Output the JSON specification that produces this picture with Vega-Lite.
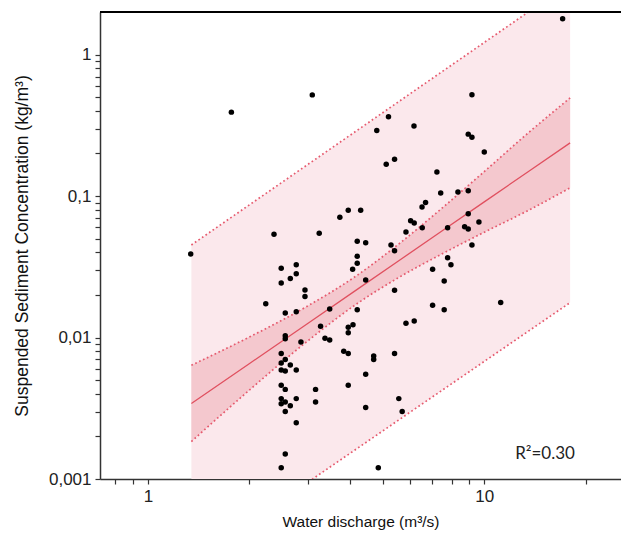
{
  "$schema": "https://vega.github.io/schema/vega-lite/v6.json",
  "width": 521,
  "height": 467,
  "autosize": {"type": "none"},
  "padding": {"left": 100, "top": 12, "right": 0, "bottom": 58},
  "background": "white",
  "config": {
    "view": {"stroke": null},
    "font": "Liberation Sans",
    "axis": {
      "grid": false,
      "domainColor": "#333333",
      "domainWidth": 1.5,
      "tickColor": "#333333",
      "tickWidth": 1.2,
      "tickSize": 5,
      "labelFont": "Liberation Sans",
      "labelFontSize": 17,
      "labelColor": "#222222",
      "labelPadding": 4,
      "titleFont": "Liberation Sans",
      "titleFontWeight": "normal",
      "titleColor": "#111111"
    }
  },
  "datasets": {
    "pts": [
      {"q": 1.34, "c": 0.039}, {"q": 1.77, "c": 0.392}, {"q": 2.37, "c": 0.0537}, {"q": 2.49, "c": 0.0309},
      {"q": 2.76, "c": 0.0327}, {"q": 3.08, "c": 0.519}, {"q": 3.23, "c": 0.0545}, {"q": 17.1, "c": 1.79},
      {"q": 9.19, "c": 0.52}, {"q": 5.19, "c": 0.363}, {"q": 4.79, "c": 0.291}, {"q": 6.18, "c": 0.313},
      {"q": 8.96, "c": 0.274}, {"q": 9.19, "c": 0.26}, {"q": 10.0, "c": 0.205}, {"q": 5.11, "c": 0.168},
      {"q": 5.41, "c": 0.182}, {"q": 7.23, "c": 0.148}, {"q": 7.42, "c": 0.105}, {"q": 8.35, "c": 0.107},
      {"q": 8.96, "c": 0.109}, {"q": 3.72, "c": 0.0707}, {"q": 3.94, "c": 0.0793}, {"q": 4.29, "c": 0.0793},
      {"q": 6.53, "c": 0.0836}, {"q": 6.69, "c": 0.0902}, {"q": 8.96, "c": 0.075}, {"q": 6.04, "c": 0.067},
      {"q": 6.19, "c": 0.0645}, {"q": 5.85, "c": 0.0557}, {"q": 6.54, "c": 0.0598}, {"q": 7.78, "c": 0.0598},
      {"q": 8.74, "c": 0.0607}, {"q": 8.96, "c": 0.0585}, {"q": 9.64, "c": 0.0655}, {"q": 9.19, "c": 0.0451},
      {"q": 4.19, "c": 0.0479}, {"q": 4.44, "c": 0.0468}, {"q": 5.28, "c": 0.0451}, {"q": 5.41, "c": 0.0411},
      {"q": 4.19, "c": 0.0375}, {"q": 4.19, "c": 0.0335}, {"q": 4.06, "c": 0.0304}, {"q": 7.02, "c": 0.0304},
      {"q": 7.78, "c": 0.0367}, {"q": 7.96, "c": 0.0327}, {"q": 4.44, "c": 0.0255}, {"q": 7.6, "c": 0.0251},
      {"q": 5.41, "c": 0.0216}, {"q": 3.47, "c": 0.0159}, {"q": 4.19, "c": 0.0157}, {"q": 7.02, "c": 0.0169},
      {"q": 7.6, "c": 0.0157}, {"q": 3.94, "c": 0.0118}, {"q": 4.07, "c": 0.0123}, {"q": 3.94, "c": 0.0108},
      {"q": 5.85, "c": 0.0126}, {"q": 6.19, "c": 0.0131}, {"q": 3.47, "c": 0.0096}, {"q": 3.82, "c": 0.008},
      {"q": 3.94, "c": 0.0077}, {"q": 4.69, "c": 0.0074}, {"q": 4.69, "c": 0.007}, {"q": 5.41, "c": 0.0077},
      {"q": 4.44, "c": 0.0055}, {"q": 3.94, "c": 0.0046}, {"q": 4.44, "c": 0.0032}, {"q": 5.57, "c": 0.0037},
      {"q": 5.7, "c": 0.003}, {"q": 4.84, "c": 0.0012}, {"q": 2.93, "c": 0.0217}, {"q": 2.93, "c": 0.0195},
      {"q": 3.26, "c": 0.012}, {"q": 3.36, "c": 0.0099}, {"q": 2.85, "c": 0.0093}, {"q": 3.15, "c": 0.0043},
      {"q": 3.15, "c": 0.0035}, {"q": 11.19, "c": 0.0177}, {"q": 2.65, "c": 0.0261}, {"q": 2.76, "c": 0.0282},
      {"q": 2.49, "c": 0.0243}, {"q": 2.24, "c": 0.0173}, {"q": 2.56, "c": 0.0149}, {"q": 2.76, "c": 0.0152},
      {"q": 2.56, "c": 0.0103}, {"q": 2.56, "c": 0.0098}, {"q": 2.49, "c": 0.0077}, {"q": 2.49, "c": 0.0066},
      {"q": 2.56, "c": 0.007}, {"q": 2.65, "c": 0.0064}, {"q": 2.49, "c": 0.0059}, {"q": 2.56, "c": 0.0058},
      {"q": 2.76, "c": 0.0059}, {"q": 2.49, "c": 0.0046}, {"q": 2.56, "c": 0.0043}, {"q": 2.49, "c": 0.0037},
      {"q": 2.56, "c": 0.0035}, {"q": 2.49, "c": 0.0034}, {"q": 2.65, "c": 0.0033}, {"q": 2.76, "c": 0.0037},
      {"q": 2.56, "c": 0.003}, {"q": 2.76, "c": 0.0025}, {"q": 2.56, "c": 0.0015}, {"q": 2.49, "c": 0.0012}
    ],
    "band": [
      {"q": 1.346, "fit": 0.00342, "clo": 0.00184, "chi": 0.00637},
      {"q": 2.0, "fit": 0.00653, "clo": 0.00424, "chi": 0.01007},
      {"q": 3.0, "fit": 0.01268, "clo": 0.00955, "chi": 0.01683},
      {"q": 4.2, "fit": 0.02198, "clo": 0.01746, "chi": 0.02767},
      {"q": 5.5, "fit": 0.0342, "clo": 0.02612, "chi": 0.04477},
      {"q": 7.5, "fit": 0.0568, "clo": 0.0391, "chi": 0.0824},
      {"q": 10.0, "fit": 0.091, "clo": 0.0555, "chi": 0.149},
      {"q": 13.5, "fit": 0.1486, "clo": 0.0791, "chi": 0.279},
      {"q": 18.0, "fit": 0.2377, "clo": 0.1143, "chi": 0.494}
    ],
    "pband": [
      {"q": 1.346, "plo": 0.000259, "phi": 0.0451},
      {"q": 18.0, "plo": 0.01766, "phi": 3.2}
    ],
    "note": [
      {"label": "R²=0.30"}
    ]
  },
  "layer": [
    {
      "data": {"name": "pband"},
      "mark": {"type": "area", "color": "#fbe8ec", "clip": true},
      "encoding": {
        "x": {"field": "q", "type": "quantitative", "scale": {"type": "log", "domain": [0.72, 25.5], "nice": false},
          "axis": {"values": [0.8, 0.9, 1, 2, 3, 4, 5, 6, 7, 8, 9, 10, 20],
            "labelExpr": "datum.value == 1 ? '1' : datum.value == 10 ? '10' : ''",
            "title": "Water discharge (m³/s)", "titleFontSize": 15.5, "titlePadding": 10}},
        "y": {"field": "plo", "type": "quantitative", "scale": {"type": "log", "domain": [0.001, 2], "nice": false},
          "axis": {"values": [0.001, 0.002, 0.003, 0.004, 0.005, 0.006, 0.007, 0.008, 0.009, 0.01, 0.02, 0.03, 0.04, 0.05, 0.06, 0.07, 0.08, 0.09, 0.1, 0.2, 0.3, 0.4, 0.5, 0.6, 0.7, 0.8, 0.9, 1],
            "labelExpr": "datum.value == 1 ? '1' : datum.value == 0.1 ? '0,1' : datum.value == 0.01 ? '0,01' : datum.value == 0.001 ? '0,001' : ''",
            "title": "Suspended Sediment Concentration (kg/m³)", "titleFontSize": 17.5, "titlePadding": 17}},
        "y2": {"field": "phi"}
      }
    },
    {
      "data": {"name": "band"},
      "mark": {"type": "area", "color": "#f4c8ce", "clip": true, "interpolate": "monotone"},
      "encoding": {
        "x": {"field": "q", "type": "quantitative"},
        "y": {"field": "clo", "type": "quantitative"},
        "y2": {"field": "chi"}
      }
    },
    {
      "data": {"name": "pband"},
      "mark": {"type": "line", "color": "#e65a6e", "strokeWidth": 1.7, "strokeDash": [1.7, 2.6], "clip": true},
      "encoding": {"x": {"field": "q", "type": "quantitative"}, "y": {"field": "plo", "type": "quantitative"}}
    },
    {
      "data": {"name": "pband"},
      "mark": {"type": "line", "color": "#e65a6e", "strokeWidth": 1.7, "strokeDash": [1.7, 2.6], "clip": true},
      "encoding": {"x": {"field": "q", "type": "quantitative"}, "y": {"field": "phi", "type": "quantitative"}}
    },
    {
      "data": {"name": "band"},
      "mark": {"type": "line", "color": "#e65a6e", "strokeWidth": 1.7, "strokeDash": [1.7, 2.6], "clip": true, "interpolate": "monotone"},
      "encoding": {"x": {"field": "q", "type": "quantitative"}, "y": {"field": "clo", "type": "quantitative"}}
    },
    {
      "data": {"name": "band"},
      "mark": {"type": "line", "color": "#e65a6e", "strokeWidth": 1.7, "strokeDash": [1.7, 2.6], "clip": true, "interpolate": "monotone"},
      "encoding": {"x": {"field": "q", "type": "quantitative"}, "y": {"field": "chi", "type": "quantitative"}}
    },
    {
      "data": {"name": "band"},
      "mark": {"type": "line", "color": "#e0505f", "strokeWidth": 1.3, "clip": true},
      "encoding": {"x": {"field": "q", "type": "quantitative"}, "y": {"field": "fit", "type": "quantitative"}}
    },
    {
      "data": {"name": "pts"},
      "mark": {"type": "point", "filled": true, "color": "#000000", "opacity": 1, "size": 30},
      "encoding": {"x": {"field": "q", "type": "quantitative"}, "y": {"field": "c", "type": "quantitative"}}
    },
    {
      "data": {"name": "note"},
      "mark": {"type": "text", "font": "Lato", "fontSize": 17, "color": "#222222", "align": "center", "baseline": "middle"},
      "encoding": {"text": {"field": "label", "type": "nominal"}, "x": {"datum": 15.16, "type": "quantitative"}, "y": {"datum": 0.00149, "type": "quantitative"}}
    },
    {
      "data": {"name": "note"},
      "mark": {"type": "rule", "color": "#000000", "strokeWidth": 2},
      "encoding": {"y": {"datum": 2, "type": "quantitative"}}
    }
  ]
}
